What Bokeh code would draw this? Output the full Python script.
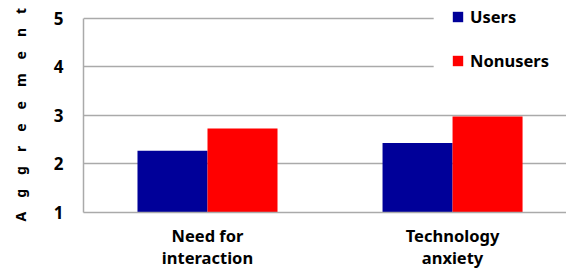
from bokeh.plotting import figure
from bokeh.models import ColumnDataSource, Range1d, FixedTicker, Legend, LegendItem, BoxAnnotation
from bokeh.embed import file_html
from bokeh.resources import INLINE

categories = ["Need for\ninteraction", "Technology\nanxiety"]
users = [2.27, 2.43]
nonusers = [2.73, 2.98]
y_ticks = [1, 2, 3, 4, 5]
y_label_letters = list("Aggreement")

xpos = [0.5 + i for i in range(len(categories))]
bw = 0.2857
src = ColumnDataSource(dict(
    x_u=[x - bw / 2 for x in xpos],
    x_n=[x + bw / 2 for x in xpos],
    users=users, nonusers=nonusers,
))

FONT = "Noto Sans"
p = figure(width=566, height=272, output_backend="svg", toolbar_location=None,
           x_range=Range1d(-0.006, 1.965), y_range=Range1d(1, 5.2245),
           min_border_left=83, min_border_right=0, min_border_top=7, min_border_bottom=58)
p.outline_line_color = None

r1 = p.vbar(x="x_u", top="users", bottom=1, width=bw, source=src,
            fill_color="#000099", line_color=None)
r2 = p.vbar(x="x_n", top="nonusers", bottom=1, width=bw, source=src,
            fill_color="#ff0000", line_color=None)

p.xgrid.visible = False
p.ygrid.ticker = FixedTicker(ticks=y_ticks)
p.ygrid.grid_line_color = "#aaaaaa"
p.ygrid.grid_line_width = 1.5

# white area behind the legend (hides the upper gridlines there)
p.add_layout(BoxAnnotation(left=1.423, bottom=3.5, fill_color="white", fill_alpha=1.0,
                           line_color=None))

gap = "\u2002\u2002"
p.yaxis.ticker = FixedTicker(ticks=y_ticks)
p.yaxis.bounds = (1, 5)
p.yaxis.axis_line_color = "#aaaaaa"
p.yaxis.axis_line_width = 1.5
p.yaxis.major_tick_line_color = None
p.yaxis.minor_tick_line_color = None
p.yaxis.major_tick_out = 0
p.yaxis.major_tick_in = 0
p.yaxis.major_label_text_font = FONT
p.yaxis.major_label_text_font_style = "bold"
p.yaxis.major_label_text_font_size = "17px"
p.yaxis.major_label_text_color = "black"
p.yaxis.major_label_standoff = 20
p.yaxis.axis_label = gap.join(y_label_letters) + "\u2002\u2009"
p.yaxis.axis_label_text_font = FONT
p.yaxis.axis_label_text_font_style = "bold"
p.yaxis.axis_label_text_font_size = "14px"
p.yaxis.axis_label_text_color = "black"
p.yaxis.axis_label_standoff = 21

p.xaxis.ticker = FixedTicker(ticks=xpos)
p.xaxis.major_label_overrides = {x: c for x, c in zip(xpos, categories)}
p.xaxis.axis_line_color = "#aaaaaa"
p.xaxis.axis_line_width = 1.5
p.xaxis.major_tick_line_color = None
p.xaxis.minor_tick_line_color = None
p.xaxis.major_label_text_font = FONT
p.xaxis.major_label_text_font_style = "bold"
p.xaxis.major_label_text_font_size = "16.5px"
p.xaxis.major_label_text_line_height = 0.98
p.xaxis.major_label_text_color = "black"
p.xaxis.major_label_standoff = 5

legend = Legend(items=[LegendItem(label="Users", renderers=[r1]),
                       LegendItem(label="Nonusers", renderers=[r2])],
                location=(368, 140), orientation="vertical",
                glyph_width=13, glyph_height=13, spacing=21, padding=7, margin=0,
                label_text_font=FONT, label_text_font_style="bold",
                label_text_font_size="16.5px", label_text_color="black",
                label_standoff=6, border_line_color=None,
                background_fill_color="white", background_fill_alpha=1.0)
p.add_layout(legend, "center")

open("out.html", "w").write(file_html(p, INLINE))
